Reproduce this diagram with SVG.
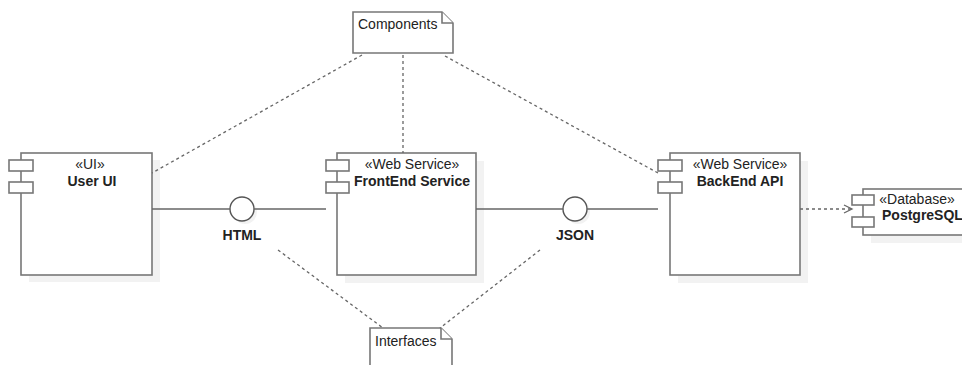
<svg xmlns="http://www.w3.org/2000/svg" width="962" height="365" viewBox="0 0 962 365">
<defs>
<marker id="open" markerWidth="12" markerHeight="12" refX="10" refY="6" orient="auto" markerUnits="userSpaceOnUse">
<path d="M2,2 L10,6 L2,10" fill="none" stroke="#666" stroke-width="1.3"/>
</marker>
</defs>
<style>
.shadow{fill:#f2f2f2;stroke:none}
.box{fill:#fff;stroke:#777;stroke-width:1.6}
.port{fill:#fff;stroke:#777;stroke-width:1.6}
.line{fill:none;stroke:#666;stroke-width:1.4}
.dash{fill:none;stroke:#666;stroke-width:1.3;stroke-dasharray:3,3}
text{font-family:"Liberation Sans",Arial,sans-serif;font-size:14px;fill:#222}
.st{text-anchor:middle}
.nm{text-anchor:middle;font-weight:bold}
</style>
<g id="userui">
<rect class="shadow" x="29" y="160" width="131" height="122"/>
<rect class="box" x="21" y="153" width="131" height="122"/>
<rect class="port" x="9" y="160" width="24" height="11"/>
<rect class="port" x="9" y="182" width="24" height="11"/>
<text class="st" x="90" y="169">«UI»</text>
<text class="nm" x="92" y="186">User UI</text>
</g>
<g id="frontend">
<rect class="shadow" x="345" y="161" width="139" height="122"/>
<rect class="box" x="337" y="153" width="139" height="122"/>
<rect class="port" x="326" y="160" width="23" height="11"/>
<rect class="port" x="326" y="182" width="23" height="11"/>
<text class="st" x="412" y="169">«Web Service»</text>
<text class="nm" x="412" y="186">FrontEnd Service</text>
</g>
<g id="backend">
<rect class="shadow" x="678" y="161" width="130" height="122"/>
<rect class="box" x="670" y="153" width="130" height="122"/>
<rect class="port" x="658" y="160" width="24" height="11"/>
<rect class="port" x="658" y="182" width="24" height="11"/>
<text class="st" x="740" y="169">«Web Service»</text>
<text class="nm" x="740" y="186">BackEnd API</text>
</g>
<g id="postgresql">
<rect class="shadow" x="871" y="197" width="100" height="46"/>
<rect class="box" x="863" y="189" width="110" height="46"/>
<rect class="port" x="852" y="195" width="22" height="10"/>
<rect class="port" x="852" y="217" width="22" height="10"/>
<text class="st" x="917" y="204">«Database»</text>
<text x="882" y="220" font-weight="bold">PostgreSQL</text>
</g>
<g id="html">
<circle cx="245" cy="212" r="12" class="shadow"/>
<circle cx="242" cy="209" r="12" fill="#fff" stroke="#555" stroke-width="1.4"/>
<text class="nm" x="242" y="240">HTML</text>
</g>
<g id="json">
<circle cx="578" cy="212" r="12" class="shadow"/>
<circle cx="575" cy="209" r="12" fill="#fff" stroke="#555" stroke-width="1.4"/>
<text class="nm" x="575" y="240">JSON</text>
</g>
<g id="components">
<path class="box" d="M353,12 H442 L453,23 V53 H353 Z"/>
<path class="box" d="M442,12 V23 H453"/>
<text x="358" y="29">Components</text>
</g>
<g id="interfaces">
<path class="box" d="M370,368 V328 H441 L452,339 V368"/>
<path class="box" d="M441,328 V339 H452"/>
<text x="375" y="346">Interfaces</text>
</g>
<g id="connectors">
<line class="line" x1="152" y1="209" x2="230" y2="209"/>
<line class="line" x1="254" y1="209" x2="326" y2="209"/>
<line class="line" x1="476" y1="209" x2="563" y2="209"/>
<line class="line" x1="587" y1="209" x2="658" y2="209"/>
<line class="dash" x1="800" y1="209" x2="852" y2="209" marker-end="url(#open)"/>
<line class="dash" x1="362" y1="55" x2="152" y2="173"/>
<line class="dash" x1="403" y1="55" x2="403" y2="153"/>
<line class="dash" x1="445" y1="56" x2="658" y2="173"/>
<line class="dash" x1="278" y1="250" x2="383" y2="328"/>
<line class="dash" x1="540" y1="250" x2="440" y2="328"/>
</g>
</svg>
